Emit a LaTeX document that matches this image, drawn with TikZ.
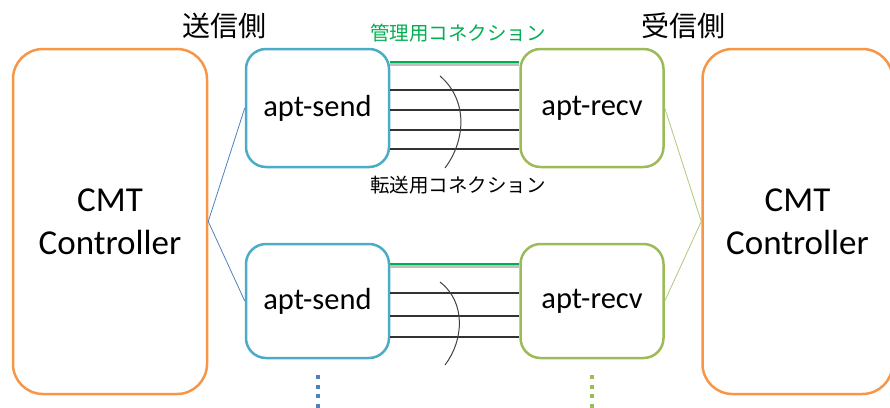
\documentclass[tikz,border=0pt]{standalone}
\usepackage{fontspec}
\setmainfont{Carlito}
\newfontfamily\jpfont{Noto Sans CJK JP}
\usetikzlibrary{calc}
\definecolor{cmtorange}{HTML}{F79646}
\definecolor{sendblue}{HTML}{4BACC6}
\definecolor{recvgreen}{HTML}{9BBB59}
\definecolor{mgmtgreen}{HTML}{00B050}
\definecolor{linkblue}{HTML}{4F81BD}
\begin{document}
\begin{tikzpicture}[x=1pt,y=-1pt,
  cmtbox/.style={draw=cmtorange, line width=2.5pt, rounded corners=30pt,
    minimum width=194pt, minimum height=345pt, align=center, inner sep=0pt,
    font=\fontsize{35}{43}\selectfont},
  sendbox/.style={draw=sendblue, line width=2.5pt, rounded corners=20pt,
    minimum width=143pt, minimum height=118pt, inner sep=0pt,
    font=\fontsize{30.5}{34}\selectfont},
  recvbox/.style={sendbox, draw=recvgreen},
  datalink/.style={draw=black!80, line width=1.2pt},
  mgmtlink/.style={draw=mgmtgreen, line width=2pt},
  mgmtshadow/.style={draw=black!25, line width=2.5pt},
  arcline/.style={draw=black!75, line width=1pt},
  sidelabel/.style={font=\jpfont\fontsize{28}{28}\selectfont},
  connlabel/.style={font=\jpfont\fontsize{19.5}{20}\selectfont},
  leftlink/.style={draw=linkblue, line width=0.8pt},
  rightlink/.style={draw=recvgreen!80, line width=0.8pt},
  dotcol/.style={line width=4pt, dash pattern=on 4pt off 5.5pt}
]
\useasboundingbox (0,0) rectangle (890,407);
\clip (0,0) rectangle (890,407);

% controllers
\node[cmtbox] (cmtL) at (110,221.5) {CMT\\Controller};
\node[cmtbox, minimum width=190pt] (cmtR) at (797.5,221.5) {CMT\\Controller};

% agents
\node[sendbox] (s1) at (317.5,108) {apt-send};
\node[recvbox] (r1) at (592,108) {apt-recv};
\node[sendbox, minimum height=114pt] (s2) at (317.5,301) {apt-send};
\node[recvbox, minimum height=114pt] (r2) at (592,301) {apt-recv};

% side labels
\node[sidelabel] (sendlbl) at (224,26) {送信側};
\node[sidelabel] (recvlbl) at (683,26) {受信側};
\node[connlabel, text=mgmtgreen] (mgmtlbl) at (458,33) {管理用コネクション};
\node[connlabel] (xferlbl) at (458,185) {転送用コネクション};

% controller links
\draw[leftlink] (s1.west) -- (cmtL.east) -- (s2.west);
\draw[rightlink] (r1.east) -- (cmtR.west) -- (r2.east);

% top pair connections
\draw[mgmtshadow] ($(s1.east)+(0,-43.5)$) -- ($(r1.west)+(0,-43.5)$);
\draw[mgmtlink] ($(s1.east)+(0,-46)$) -- ($(r1.west)+(0,-46)$);
\foreach \dy in {-18,2,22,41}
  \draw[datalink] ($(s1.east)+(0,\dy)$) -- ($(r1.west)+(0,\dy)$);
\draw[arcline] (440,76) .. controls (468,100) and (466,140) .. (445,168);

% bottom pair connections
\draw[mgmtshadow] ($(s2.east)+(0,-34.5)$) -- ($(r2.west)+(0,-34.5)$);
\draw[mgmtlink] ($(s2.east)+(0,-37)$) -- ($(r2.west)+(0,-37)$);
\foreach \dy in {-8,15,36}
  \draw[datalink] ($(s2.east)+(0,\dy)$) -- ($(r2.west)+(0,\dy)$);
\draw[arcline] (440,282) .. controls (466,302) and (464,340) .. (445,365);

% continuation dots
\draw[dotcol, draw=linkblue] ($(s2.south)+(0,16)$) -- ($(s2.south)+(0,52)$);
\draw[dotcol, draw=recvgreen] ($(r2.south)+(0,16)$) -- ($(r2.south)+(0,52)$);
\end{tikzpicture}
\end{document}
